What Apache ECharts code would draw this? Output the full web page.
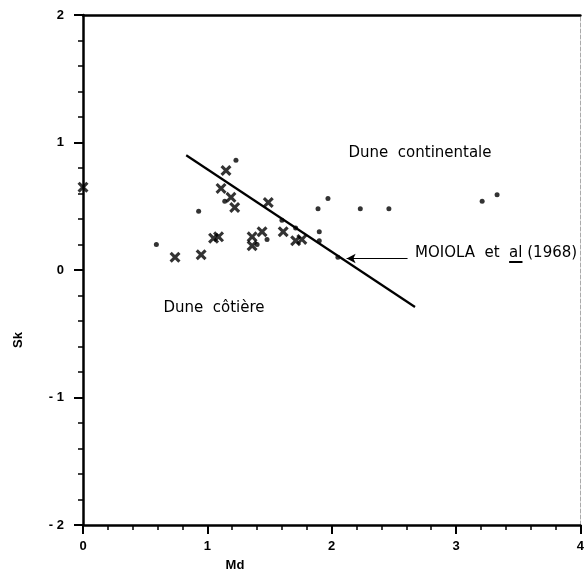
<!DOCTYPE html>
<html>
<head>
<meta charset="utf-8">
<script src="https://cdn.jsdelivr.net/npm/echarts@6/dist/echarts.min.js"></script>
<style>
  html, body { margin: 0; padding: 0; background: #fff; }
  #chart { width: 587px; height: 574px; }
</style>
</head>
<body>
<div id="chart"></div>
<script>
// Md / Sk values
var crossMd = [0, 1.15, 1.11, 1.19, 1.22, 1.49, 1.61, 1.44, 1.36, 1.36, 1.71, 1.76, 1.09, 1.05, 0.74, 0.95];
var crossSk = [0.65, 0.78, 0.64, 0.57, 0.49, 0.53, 0.30, 0.30, 0.26, 0.19, 0.23, 0.24, 0.26, 0.25, 0.10, 0.12];

var dotMd = [1.23, 1.14, 0.93, 1.97, 1.89, 1.60, 1.71, 1.90, 1.90, 1.48, 1.40, 0.59, 2.05, 2.23, 2.46, 3.21, 3.33];
var dotSk = [0.86, 0.54, 0.46, 0.56, 0.48, 0.39, 0.33, 0.30, 0.23, 0.24, 0.20, 0.20, 0.10, 0.48, 0.48, 0.54, 0.59];

// limite de Moiola et al (1968)
var lineMd = [0.83, 2.67];
var lineSk = [0.90, -0.29];

// fleche vers la droite
var arrowMd = [2.61, 2.12];
var arrowSk = [0.09, 0.09];

var xTicks = [0, 1, 2, 3, 4];
var yTicks = [-2, -1, 0, 1, 2];

function pairs(xs, ys) {
    return xs.map(function (x, i) { return [x, ys[i]]; });
}

var FONT = '"Liberation Sans", Arial, sans-serif';
var NOTE_FONT = '"DejaVu Sans", sans-serif';
var CROSS = 'path://M0,2L2,0L5,3L8,0L10,2L7,5L10,8L8,10L5,7L2,10L0,8L3,5Z';

// soulignement de "al"
var noteX = 415, noteY = 253;
var ctx = document.createElement('canvas').getContext('2d');
ctx.font = '15px ' + NOTE_FONT;
var alStart = noteX + ctx.measureText('MOIOLA  et  ').width;
var alEnd = alStart + ctx.measureText('al').width;

var myChart = echarts.init(document.getElementById('chart'), null, {renderer: 'canvas'});

var option = {
    animation: false,
    backgroundColor: '#fff',
    grid: {left: 83, top: 15, right: 2, bottom: 49},
    xAxis: [{
        type: 'value',
        min: xTicks[0],
        max: xTicks[xTicks.length - 1],
        interval: 1,
        splitLine: {show: false},
        axisLine: {onZero: false, lineStyle: {color: '#000', width: 2.5}},
        axisTick: {inside: false, length: 9, lineStyle: {color: '#000', width: 2}},
        minorTick: {show: true, splitNumber: 5, length: 5, lineStyle: {color: '#000', width: 1.5}},
        axisLabel: {color: '#000', fontSize: 13, fontWeight: 'bold', fontFamily: FONT, margin: 15}
    }, {
        type: 'value',
        position: 'top',
        min: 0, max: 4,
        splitLine: {show: false},
        axisLine: {onZero: false, lineStyle: {color: '#000', width: 2.5}},
        axisTick: {show: false},
        axisLabel: {show: false}
    }],
    yAxis: [{
        type: 'value',
        min: yTicks[0],
        max: yTicks[yTicks.length - 1],
        interval: 1,
        splitLine: {show: false},
        axisLine: {onZero: false, lineStyle: {color: '#000', width: 2.5}},
        axisTick: {inside: false, length: 9, lineStyle: {color: '#000', width: 2}},
        minorTick: {show: true, splitNumber: 5, length: 5, lineStyle: {color: '#000', width: 1.5}},
        axisLabel: {
            color: '#000', fontSize: 13, fontWeight: 'bold', fontFamily: FONT, margin: 19,
            formatter: function (v) { return v < 0 ? '- ' + (-v) : String(v); }
        }
    }, {
        type: 'value',
        position: 'right',
        min: -2, max: 2,
        splitLine: {show: false},
        axisLine: {onZero: false, lineStyle: {color: '#aaa', width: 1, type: 'dashed'}},
        axisTick: {show: false},
        axisLabel: {show: false}
    }],
    series: [{
        name: 'Moiola',
        type: 'line',
        data: pairs(lineMd, lineSk),
        symbol: 'none',
        lineStyle: {color: '#000', width: 2.2},
        markLine: {
            silent: true,
            symbol: ['none', 'arrow'],
            symbolSize: [7, 9],
            label: {show: false},
            lineStyle: {color: '#000', width: 1.2, type: 'solid'},
            data: [[{coord: [arrowMd[0], arrowSk[0]]}, {coord: [arrowMd[1], arrowSk[1]]}]]
        }
    }, {
        name: 'points',
        type: 'scatter',
        data: pairs(dotMd, dotSk),
        symbol: 'circle',
        symbolSize: 5,
        itemStyle: {color: '#000'}
    }, {
        name: 'croix',
        type: 'scatter',
        clip: false,
        data: pairs(crossMd, crossSk),
        symbol: CROSS,
        symbolSize: 11,
        itemStyle: {color: '#000'}
    }],
    graphic: [{
        type: 'text', x: 420, y: 153,
        style: {text: 'Dune  continentale', fontSize: 15, fontFamily: NOTE_FONT, fill: '#000', align: 'center', verticalAlign: 'middle'}
    }, {
        type: 'text', x: 214, y: 308,
        style: {text: 'Dune  côtière', fontSize: 15, fontFamily: NOTE_FONT, fill: '#000', align: 'center', verticalAlign: 'middle'}
    }, {
        type: 'text', x: noteX, y: noteY,
        style: {text: 'MOIOLA  et  al (1968)', fontSize: 15, fontFamily: NOTE_FONT, fill: '#000', align: 'left', verticalAlign: 'middle'}
    }, {
        type: 'line',
        shape: {x1: alStart, y1: noteY + 9, x2: alEnd, y2: noteY + 9},
        style: {stroke: '#000', lineWidth: 2}
    }, {
        type: 'text', x: 235, y: 565,
        style: {text: 'Md', fontSize: 13, fontWeight: 'bold', fontFamily: FONT, fill: '#000', align: 'center', verticalAlign: 'middle'}
    }, {
        type: 'text', x: 18, y: 340, rotation: Math.PI / 2,
        style: {text: 'Sk', fontSize: 13, fontWeight: 'bold', fontFamily: FONT, fill: '#000', align: 'center', verticalAlign: 'middle'}
    }]
};

myChart.setOption(option);
</script>
</body>
</html>
